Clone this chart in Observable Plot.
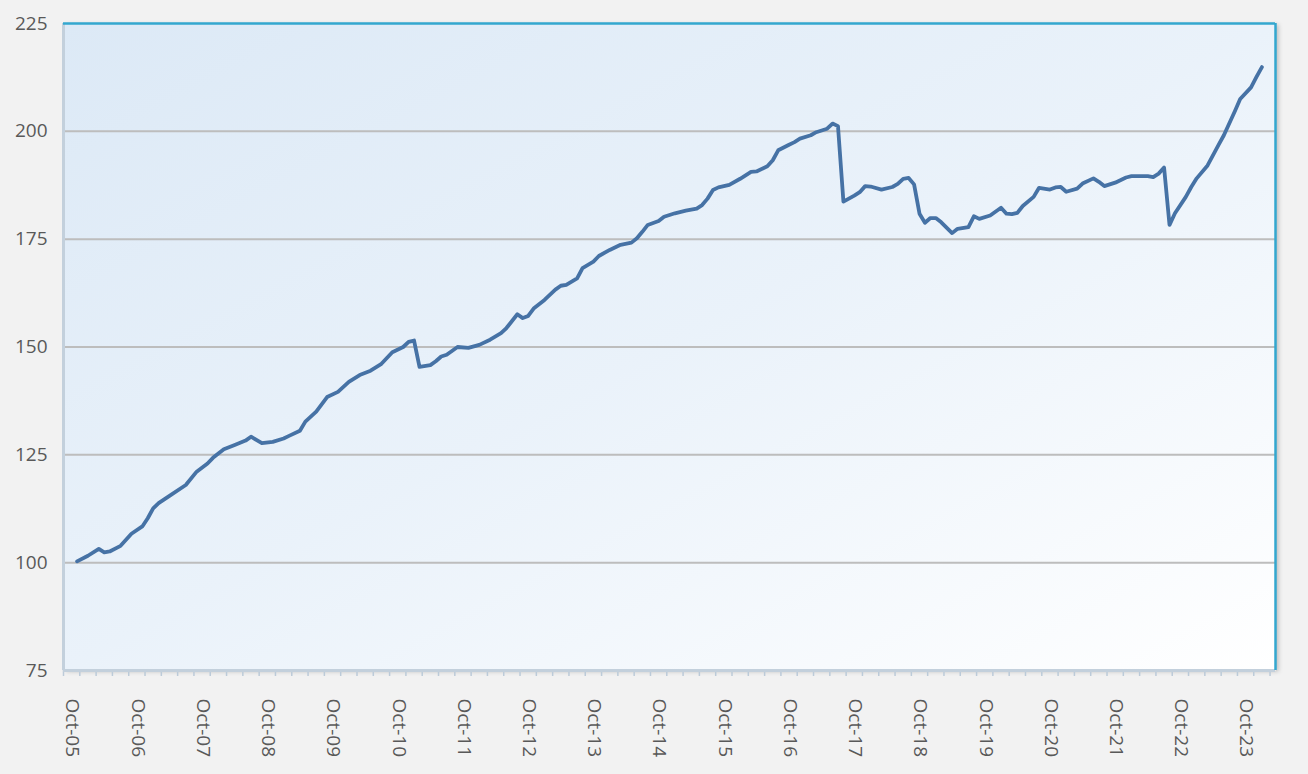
<!DOCTYPE html>
<html>
<head>
<meta charset="utf-8">
<script src="https://cdn.jsdelivr.net/npm/d3@7"></script>
<script src="https://cdn.jsdelivr.net/npm/@observablehq/plot@0.6"></script>
<style>
  html, body { margin: 0; padding: 0; background: #f2f2f2; }
  #chart svg { display: block; }
</style>
</head>
<body>
<div id="chart"></div>
<script>
// ---- data ----
const dates = [
  "2005-10","2005-12","2006-02","2006-03","2006-04","2006-06","2006-08","2006-10","2006-11","2006-12",
  "2007-01","2007-03","2007-06","2007-08","2007-10","2007-11",
  "2008-01","2008-03","2008-05","2008-06","2008-08","2008-10","2008-12",
  "2009-01","2009-03","2009-04","2009-06","2009-08","2009-10","2009-12",
  "2010-02","2010-04","2010-06","2010-08","2010-10","2010-11","2010-12",
  "2011-01","2011-03","2011-04","2011-05","2011-06","2011-08","2011-10","2011-12",
  "2012-02","2012-04","2012-05","2012-07","2012-08","2012-09","2012-10","2012-12",
  "2013-02","2013-03","2013-04","2013-06","2013-07","2013-09","2013-10","2013-12",
  "2014-02","2014-04","2014-05","2014-06","2014-07","2014-09","2014-10","2014-12",
  "2015-02","2015-04","2015-05","2015-06","2015-07","2015-08","2015-10","2015-12",
  "2016-02","2016-03","2016-05","2016-06","2016-07","2016-09","2016-10","2016-11",
  "2017-01","2017-02","2017-04","2017-05","2017-06","2017-07","2017-09","2017-10","2017-11","2017-12",
  "2018-02","2018-04","2018-05","2018-06","2018-07","2018-08","2018-09","2018-10","2018-11","2018-12",
  "2019-01","2019-03","2019-04","2019-06","2019-07","2019-08","2019-10","2019-12",
  "2020-01","2020-02","2020-03","2020-04","2020-06","2020-07","2020-09","2020-10","2020-11","2020-12",
  "2021-02","2021-03","2021-05","2021-06","2021-07","2021-09","2021-11","2021-12",
  "2022-03","2022-04","2022-05","2022-06","2022-07","2022-08","2022-10","2022-11","2022-12",
  "2023-02","2023-04","2023-05","2023-07","2023-08","2023-10","2023-11","2023-12"
];
const values = [
  100.3,101.6,103.2,102.4,102.6,103.9,106.7,108.4,110.3,112.6,
  113.8,115.5,118.0,121.1,123.0,124.3,
  126.3,127.3,128.3,129.2,127.7,128.0,128.8,
  129.4,130.6,132.7,135.0,138.4,139.6,141.9,
  143.5,144.5,146.1,148.8,150.0,151.2,151.5,
  145.4,145.8,146.7,147.8,148.2,150.0,149.8,150.5,
  151.7,153.2,154.4,157.6,156.7,157.2,158.9,160.9,
  163.3,164.2,164.4,165.9,168.3,169.8,171.1,172.5,
  173.7,174.2,175.2,176.7,178.3,179.2,180.2,181.0,
  181.6,182.1,182.9,184.4,186.4,187.0,187.6,189.0,
  190.6,190.7,191.9,193.3,195.6,196.9,197.5,198.3,
  199.1,199.8,200.6,201.8,201.2,183.7,185.1,185.9,187.3,187.2,
  186.5,187.1,187.8,189.0,189.2,187.7,180.9,178.8,179.9,179.9,
  178.9,176.4,177.4,177.8,180.3,179.7,180.5,182.3,
  180.9,180.8,181.1,182.7,184.8,186.9,186.5,187.0,187.1,186.0,
  186.7,187.9,189.1,188.3,187.3,188.1,189.3,189.6,
  189.6,189.4,190.2,191.6,178.3,181.0,184.8,187.1,189.1,
  192.1,196.8,199.1,204.6,207.5,210.2,212.6,214.9
];
const yTicks = [75, 100, 125, 150, 175, 200, 225];
const xLabelDates = ["2005-10","2006-10","2007-10","2008-10","2009-10","2010-10","2011-10","2012-10","2013-10",
  "2014-10","2015-10","2016-10","2017-10","2018-10","2019-10","2020-10","2021-10","2022-10","2023-10"];
const xLabels = ["Oct-05","Oct-06","Oct-07","Oct-08","Oct-09","Oct-10","Oct-11","Oct-12","Oct-13",
  "Oct-14","Oct-15","Oct-16","Oct-17","Oct-18","Oct-19","Oct-20","Oct-21","Oct-22","Oct-23"];
const firstMonth = "2005-08";   // first category on the axis
const lastMonth = "2024-02";    // last category on the axis

// month index relative to Oct-2005
const mIdx = s => { const [y, m] = s.split("-").map(Number); return (y - 2005) * 12 + (m - 10); };

const series = dates.map((d, i) => ({ t: mIdx(d), v: values[i] }));
const labelRows = xLabelDates.map((d, i) => ({ t: mIdx(d), label: xLabels[i] }));
const x0 = mIdx(firstMonth) - 0.5, x1 = mIdx(lastMonth) + 0.5;
const quarterTicks = d3.range(x0, x1 - 0.9, 3);

const font = "'Open Sans', 'DejaVu Sans', sans-serif";

const chart = Plot.plot({
  width: 1308,
  height: 774,
  marginLeft: 63,
  marginRight: 33,
  marginTop: 23,
  marginBottom: 104,
  style: { background: "#f2f2f2", fontFamily: font, overflow: "visible" },
  x: { domain: [x0, x1], axis: null },
  y: { domain: [75, 225], axis: null },
  marks: [
    Plot.frame({ fill: "url(#bgGrad)", stroke: "none", ariaLabel: "bgframe" }),
    Plot.ruleY(yTicks.filter(d => d > 75 && d < 225), { stroke: "#bdbdbd", strokeWidth: 2 }),
    Plot.axisX({ ticks: quarterTicks, tickSize: 6, tickFormat: () => "", label: null, stroke: "#bccbd9", strokeWidth: 1.5 }),
    Plot.ruleX([x0], { stroke: "#c3d0dc", strokeWidth: 3 }),
    Plot.ruleY([75], { stroke: "#c3d0dc", strokeWidth: 3 }),
    Plot.ruleY([225], { stroke: "#33a7cf", strokeWidth: 2.5 }),
    Plot.ruleX([x1], { stroke: "#33a7cf", strokeWidth: 2.5 }),
    Plot.line(series, { x: "t", y: "v", stroke: "#4672a5", strokeWidth: 3.8, strokeLinejoin: "round", strokeLinecap: "round" }),
    Plot.axisY({ ticks: yTicks, tickSize: 0, tickPadding: 16, label: null, fontSize: 19, color: "#595959", fill: "#595959" }),
    Plot.text(labelRows, { x: "t", frameAnchor: "bottom", text: "label", rotate: 90, textAnchor: "start",
      lineAnchor: "middle", dy: 28, dx: -4.5, fontSize: 19, fill: "#595959" })
  ]
});

const svg = d3.select(chart);
const defs = svg.insert("defs", ":first-child");
const g = defs.append("linearGradient").attr("id", "bgGrad")
  .attr("x1", "0").attr("y1", "0").attr("x2", "1").attr("y2", "1");
g.append("stop").attr("offset", "0").attr("stop-color", "#dce9f6");
g.append("stop").attr("offset", "0.5").attr("stop-color", "#eaf2fa");
g.append("stop").attr("offset", "1").attr("stop-color", "#ffffff");
const f = defs.append("filter").attr("id", "shadow").attr("x", "-5%").attr("y", "-5%").attr("width", "110%").attr("height", "110%");
f.append("feDropShadow").attr("dx", 3).attr("dy", 1).attr("stdDeviation", 2).attr("flood-color", "#000").attr("flood-opacity", 0.22);
svg.selectAll("[aria-label=bgframe] rect, rect[aria-label=bgframe]").attr("filter", "url(#shadow)");

document.getElementById("chart").appendChild(chart);
</script>
</body>
</html>
